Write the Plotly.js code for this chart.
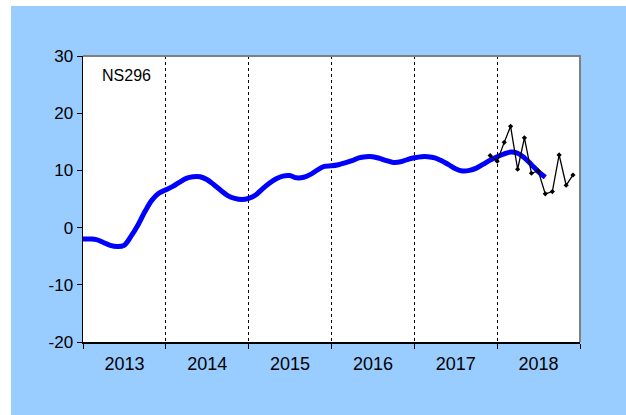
<!DOCTYPE html>
<html>
<head>
<meta charset="utf-8">
<script src="https://cdn.plot.ly/plotly-3.0.1.min.js"></script>
<style>html,body{margin:0;padding:0;background:#fff;}#chart{width:626px;height:415px;}</style>
</head>
<body>
<div id="chart"></div>
<script>
// Smoothed trend, monthly from Jan 2013
var trendStart = [2013, 1];
var trendValues = [
  -2.0, -2.0, -2.1, -2.6, -3.1, -3.3, -3.1, -1.5, 0.5, 2.8, 4.8, 6.0,
  6.6, 7.2, 7.9, 8.6, 8.9, 8.9, 8.4, 7.5, 6.5, 5.6, 5.1, 4.9,
  5.1, 5.7, 6.7, 7.7, 8.5, 9.0, 9.1, 8.7, 8.8, 9.3, 10.1, 10.7,
  10.8, 11.0, 11.3, 11.7, 12.2, 12.4, 12.4, 12.1, 11.7, 11.4, 11.5, 11.9,
  12.2, 12.4, 12.4, 12.2, 11.7, 11.0, 10.3, 9.9, 10.0, 10.4, 11.1, 11.8,
  12.4, 12.9, 13.2, 13.0, 12.2, 11.0, 9.8, 8.8
];
// Monthly observations from Dec 2017
var obsStart = [2017, 12];
var obsValues = [12.6, 11.6, 14.9, 17.7, 10.2, 15.7, 9.5, 9.9, 5.9, 6.3, 12.7, 7.4, 9.2];
var yearTicks = ['2013', '2014', '2015', '2016', '2017', '2018', '2019'];
var yTickVals = [-20, -10, 0, 10, 20, 30];
var yTickText = ['-20', '-10', '0', '10', '20', '30'];
var seriesLabel = 'NS296';

function monthDates(start, n) {
  var out = [];
  for (var i = 0; i < n; i++) {
    var m0 = start[1] - 1 + i;
    var y = start[0] + Math.floor(m0 / 12);
    var m = (m0 % 12) + 1;
    out.push(y + '-' + (m < 10 ? '0' : '') + m + '-01');
  }
  return out;
}

var font = 'Arial, "Liberation Sans", sans-serif';
var L = 83, R = 580, T = 56, B = 342, W = 626, H = 415;
function px(x) { return (x - L) / (R - L); }
function py(y) { return (B - y) / (B - T); }

var traces = [
  {
    x: monthDates(trendStart, trendValues.length), y: trendValues,
    type: 'scatter', mode: 'lines',
    line: {color: '#0000FF', width: 5, shape: 'spline', smoothing: 1},
    hoverinfo: 'skip', showlegend: false
  },
  {
    x: monthDates(obsStart, obsValues.length), y: obsValues,
    type: 'scatter', mode: 'lines+markers',
    line: {color: '#000000', width: 1.3},
    marker: {color: '#000000', size: 4, symbol: 'diamond'},
    hoverinfo: 'skip', showlegend: false
  }
];

var layout = {
  width: W, height: H,
  margin: {l: L, r: W - R, t: T, b: H - B, pad: 0},
  paper_bgcolor: '#99CCFF',
  plot_bgcolor: '#FFFFFF',
  font: {family: font, size: 17, color: '#000000'},
  showlegend: false,
  xaxis: {
    type: 'date',
    range: [yearTicks[0] + '-01-01', yearTicks[yearTicks.length - 1] + '-01-01'],
    tick0: yearTicks[0] + '-01-01', dtick: 'M12',
    ticklabelmode: 'period', tickformat: '%Y',
    ticks: 'outside', ticklen: 5, tickwidth: 1, tickcolor: '#000000',
    tickfont: {family: font, size: 18, color: '#000000'},
    showgrid: true, gridcolor: '#000000', gridwidth: 1, griddash: 'dot',
    showline: true, linecolor: '#000000', linewidth: 1.5,
    zeroline: false, fixedrange: true
  },
  yaxis: {
    range: [-20, 30], tickmode: 'array', tickvals: yTickVals, ticktext: yTickText,
    ticks: 'outside', ticklen: 5, tickwidth: 1, tickcolor: '#000000',
    tickfont: {family: font, size: 17, color: '#000000'},
    showgrid: false, zeroline: false,
    showline: true, linecolor: '#000000', linewidth: 1.5,
    fixedrange: true
  },
  shapes: [
    {type: 'path', xref: 'paper', yref: 'paper', layer: 'above',
     path: 'M0,1 L1,1 L1,0', line: {color: '#808080', width: 2}},
    {type: 'rect', xref: 'paper', yref: 'paper', layer: 'above',
     x0: px(-5), x1: px(11), y0: py(H + 5), y1: py(-5),
     fillcolor: '#FFFFFF', line: {width: 0}},
    {type: 'rect', xref: 'paper', yref: 'paper', layer: 'above',
     x0: px(-5), x1: px(W + 5), y0: py(6), y1: py(-5),
     fillcolor: '#FFFFFF', line: {width: 0}}
  ],
  annotations: [
    {text: seriesLabel, xref: 'paper', yref: 'paper', x: px(100), y: py(75),
     xanchor: 'left', yanchor: 'middle', showarrow: false,
     font: {family: font, size: 16, color: '#000000'}}
  ]
};

Plotly.newPlot('chart', traces, layout, {displayModeBar: false, staticPlot: true});
</script>
</body>
</html>
